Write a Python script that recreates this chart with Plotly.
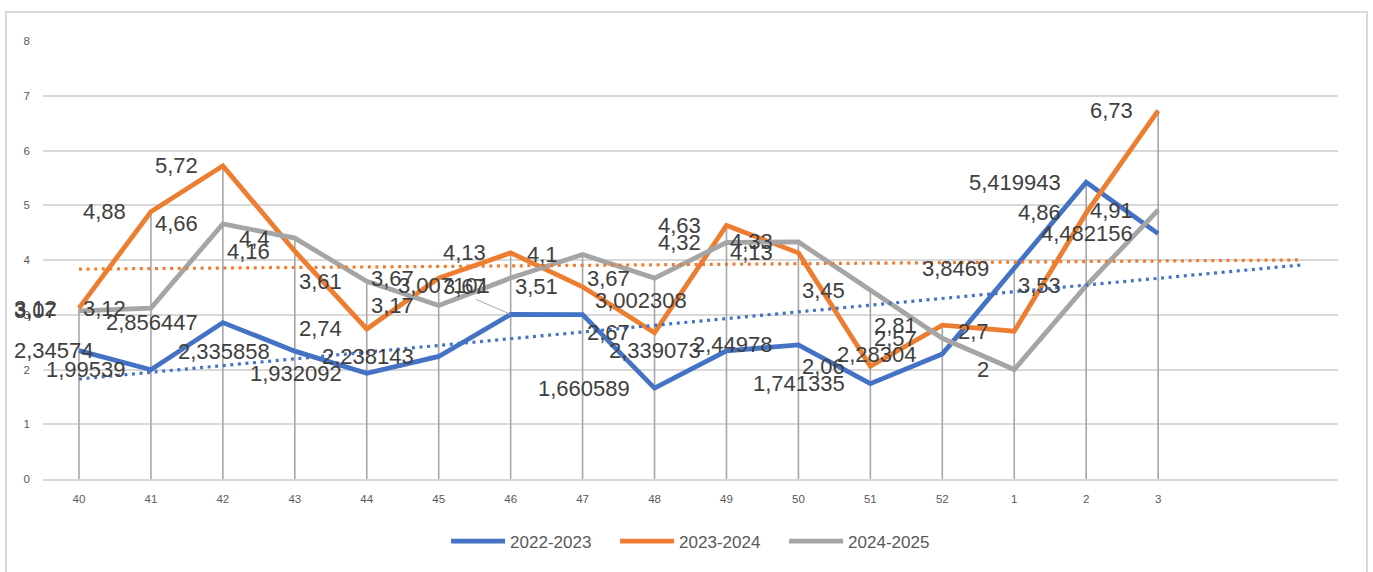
import numpy as np
import plotly.graph_objects as go

# ---------------- data ----------------
weeks = ["40", "41", "42", "43", "44", "45", "46", "47", "48", "49", "50", "51", "52", "1", "2", "3"]
s_2022_2023 = [2.34574, 1.99539, 2.856447, 2.335858, 1.932092, 2.238143, 3.007101, 3.002308,
               1.660589, 2.339073, 2.44978, 1.741335, 2.28304, 3.8469, 5.419943, 4.482156]
s_2023_2024 = [3.12, 4.88, 5.72, 4.16, 2.74, 3.67, 4.13, 3.51, 2.67, 4.63, 4.13, 2.06, 2.81, 2.7, 4.86, 6.73]
s_2024_2025 = [3.07, 3.12, 4.66, 4.4, 3.61, 3.17, 3.67, 4.1, 3.67, 4.32, 4.33, 3.45, 2.57, 2.0, 3.53, 4.91]
series_names = ["2022-2023", "2023-2024", "2024-2025"]
y_ticks = [0, 1, 2, 3, 4, 5, 6, 7, 8]

# ---------------- style ----------------
colors = ["#4472C4", "#ED7D31", "#A5A5A5"]
FONT = "Liberation Sans, Arial, sans-serif"
LABEL_COLOR = "#404040"
AXIS_TEXT = "#595959"
GRID = "#D9D9D9"
DROP = "#A6A6A6"
FORECAST = 2  # trendline forward forecast (periods)

series = [s_2022_2023, s_2023_2024, s_2024_2025]
x = list(range(len(weeks)))

fig = go.Figure()

# drop lines (from highest point of each category down to the axis)
dx, dy = [], []
for i in x:
    top = max(s[i] for s in series)
    dx += [i, i, None]
    dy += [top, 0, None]
fig.add_trace(go.Scatter(x=dx, y=dy, mode="lines", line=dict(color=DROP, width=1.6),
                         showlegend=False, hoverinfo="skip"))

# main series
for name, vals, col in zip(series_names, series, colors):
    fig.add_trace(go.Scatter(x=x, y=vals, mode="lines", name=name,
                             line=dict(color=col, width=4.8)))

# linear trendlines for first two series
for vals, col in zip(series[:2], colors[:2]):
    k, b = np.polyfit(x, vals, 1)
    tx = np.array([0, len(x) - 1 + FORECAST])
    fig.add_trace(go.Scatter(x=tx, y=k * tx + b, mode="lines", showlegend=False,
                             hoverinfo="skip",
                             line=dict(color=col, width=3.2, dash="3px,4.6px")))


def fmt(v):
    return f"{v:.6f}".rstrip("0").rstrip(".").replace(".", ",")


# label placement overrides: (series index, point index) -> settings
special = {
    (0, 6): dict(showarrow=True, ax=-67, ay=-29),
    (0, 7): dict(xanchor="left", xshift=10, yshift=14),
    (2, 6): dict(xshift=-23, yshift=-8),
}

annotations = []
for si, vals in enumerate(series):
    for i, v in enumerate(vals):
        a = dict(x=x[i], y=v, xref="x", yref="y", text=fmt(v), showarrow=False,
                 xanchor="right", yanchor="middle", xshift=-23,
                 font=dict(family=FONT, size=22, color=LABEL_COLOR))
        if i == 0:
            a.update(xanchor="left", xshift=-67)
        sp = special.get((si, i))
        if sp:
            if sp.get("showarrow"):
                a.update(showarrow=True, ax=sp["ax"], ay=sp["ay"], arrowhead=0,
                         arrowwidth=1, arrowcolor=DROP, standoff=0, xanchor="center",
                         xshift=0)
            else:
                a.update(sp)
        annotations.append(a)

fig.update_layout(
    width=1373, height=572,
    margin=dict(l=43, r=35, t=41, b=88),
    paper_bgcolor="white", plot_bgcolor="white",
    font=dict(family=FONT, color=AXIS_TEXT),
    showlegend=True,
    legend=dict(orientation="h", x=0.507, xanchor="center", y=-0.143, yanchor="middle",
                font=dict(size=17, color=AXIS_TEXT), itemwidth=54, traceorder="normal",
                entrywidth=100, entrywidthmode="pixels"),
    annotations=annotations,
    shapes=[dict(type="rect", xref="paper", yref="paper", x0=-0.0286, x1=1.0224,
                 y0=-0.3, y1=1.066, line=dict(color=GRID, width=2), layer="below")],
)
fig.update_xaxes(range=[-0.5, len(x) - 1 + FORECAST + 0.5], tickmode="array", tickvals=x,
                 ticktext=weeks, showgrid=False, zeroline=False, showline=True,
                 linecolor=GRID, linewidth=2, ticks="", ticklabelstandoff=8,
                 tickfont=dict(size=11.5, color=AXIS_TEXT))
fig.update_yaxes(range=[0, 8], tickmode="array", tickvals=y_ticks, showgrid=True,
                 gridcolor=GRID, gridwidth=1.5, zeroline=False, showline=False, ticks="",
                 ticklabelstandoff=12, tickfont=dict(size=11.5, color=AXIS_TEXT))

fig.write_html("out.html", config={"displayModeBar": False},
               post_script="document.body.style.margin='0';")
